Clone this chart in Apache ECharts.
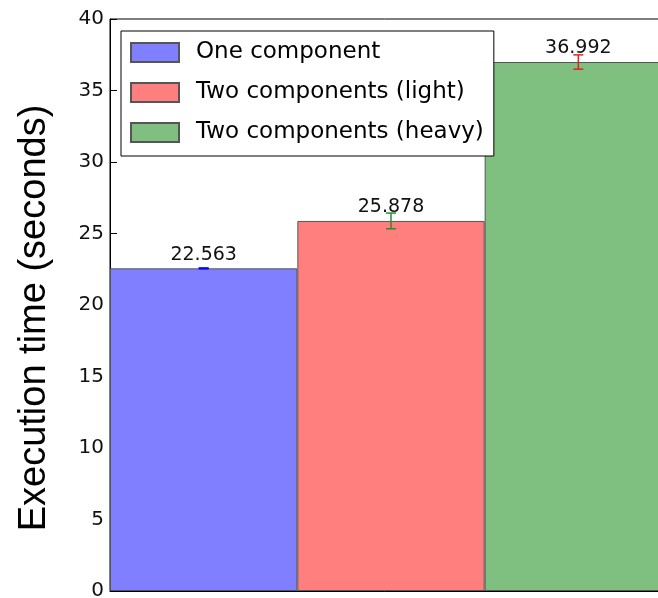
<!DOCTYPE html>
<html>
<head>
<meta charset="utf-8">
<script src="https://cdn.jsdelivr.net/npm/echarts@6/dist/echarts.min.js"></script>
<style>
  html, body { margin: 0; padding: 0; background: #fff; }
  #chart { width: 658px; height: 598px; }
</style>
</head>
<body>
<div id="chart"></div>
<script>
var seriesNames = ['One component', 'Two components (light)', 'Two components (heavy)'];
var times = [22.563, 25.878, 36.992];
var errors = [0.03, 0.55, 0.5];
var barColors = ['#7f7fff', '#ff7f7f', '#7fbf7f'];
var errColors = ['#0000ff', '#2e8b2e', '#e8201e'];
var yTicks = [0, 40, 5];

var dom = document.getElementById('chart');
var myChart = echarts.init(dom);

var series = seriesNames.map(function (name, i) {
    var d = times.map(function (v, j) { return j === i ? v : null; });
    return {
        name: name,
        type: 'bar',
        stack: 'all',
        data: d,
        barWidth: '100%',
        itemStyle: { color: barColors[i], borderColor: '#555', borderWidth: 1 },
        label: {
            show: true,
            position: 'top',
            distance: 4,
            formatter: function (p) { return p.value.toFixed(3); },
            color: '#111',
            fontSize: 19,
            fontFamily: 'DejaVu Sans'
        }
    };
});

series.push({
    type: 'custom',
    silent: true,
    data: times.map(function (v, i) { return [i, v - errors[i], v + errors[i]]; }),
    renderItem: function (params, api) {
        var i = api.value(0);
        var lo = api.coord([i, api.value(1)]);
        var hi = api.coord([i, api.value(2)]);
        var c = errColors[params.dataIndex];
        var w = 5;
        var st = { stroke: c, lineWidth: 1.5 };
        return {
            type: 'group',
            children: [
                { type: 'line', shape: { x1: lo[0], y1: lo[1], x2: hi[0], y2: hi[1] }, style: st },
                { type: 'line', shape: { x1: lo[0] - w, y1: lo[1], x2: lo[0] + w, y2: lo[1] }, style: st },
                { type: 'line', shape: { x1: hi[0] - w, y1: hi[1], x2: hi[0] + w, y2: hi[1] }, style: st }
            ]
        };
    },
    z: 5
});

var option = {
    animation: false,
    backgroundColor: '#fff',
    grid: {
        left: 110, top: 19, width: 562, height: 572,
        outerBoundsMode: 'none',
        show: true, borderColor: '#000', borderWidth: 1, backgroundColor: 'transparent'
    },
    legend: {
        data: seriesNames,
        orient: 'vertical',
        left: 121,
        top: 31,
        icon: 'rect',
        itemWidth: 48,
        itemHeight: 19,
        itemGap: 17,
        padding: [10, 10, 12, 9],
        backgroundColor: '#fff',
        borderColor: '#000',
        borderWidth: 1,
        borderRadius: 0,
        textStyle: { fontSize: 23, fontFamily: 'DejaVu Sans', color: '#000', padding: [0, 0, 0, 12] },
        selectedMode: false
    },
    xAxis: {
        type: 'category',
        data: seriesNames,
        boundaryGap: true,
        axisLine: { show: true, lineStyle: { color: '#000' } },
        axisTick: { show: false },
        axisLabel: { show: false },
        splitLine: { show: false }
    },
    yAxis: {
        type: 'value',
        min: yTicks[0],
        max: yTicks[1],
        interval: yTicks[2],
        name: 'Execution time (seconds)',
        nameLocation: 'middle',
        nameGap: 56,
        nameTextStyle: { fontSize: 38, fontFamily: 'Liberation Sans', color: '#000', padding: [0, 26, 0, 0] },
        axisLine: { show: true, lineStyle: { color: '#000' } },
        axisTick: { show: true, inside: true, length: 7, lineStyle: { color: '#000' } },
        axisLabel: { fontSize: 20, fontFamily: 'DejaVu Sans', color: '#111', margin: 6 },
        splitLine: { show: false }
    },
    series: series
};

if (option && typeof option === 'object') {
    myChart.setOption(option, true);
}
</script>
</body>
</html>
